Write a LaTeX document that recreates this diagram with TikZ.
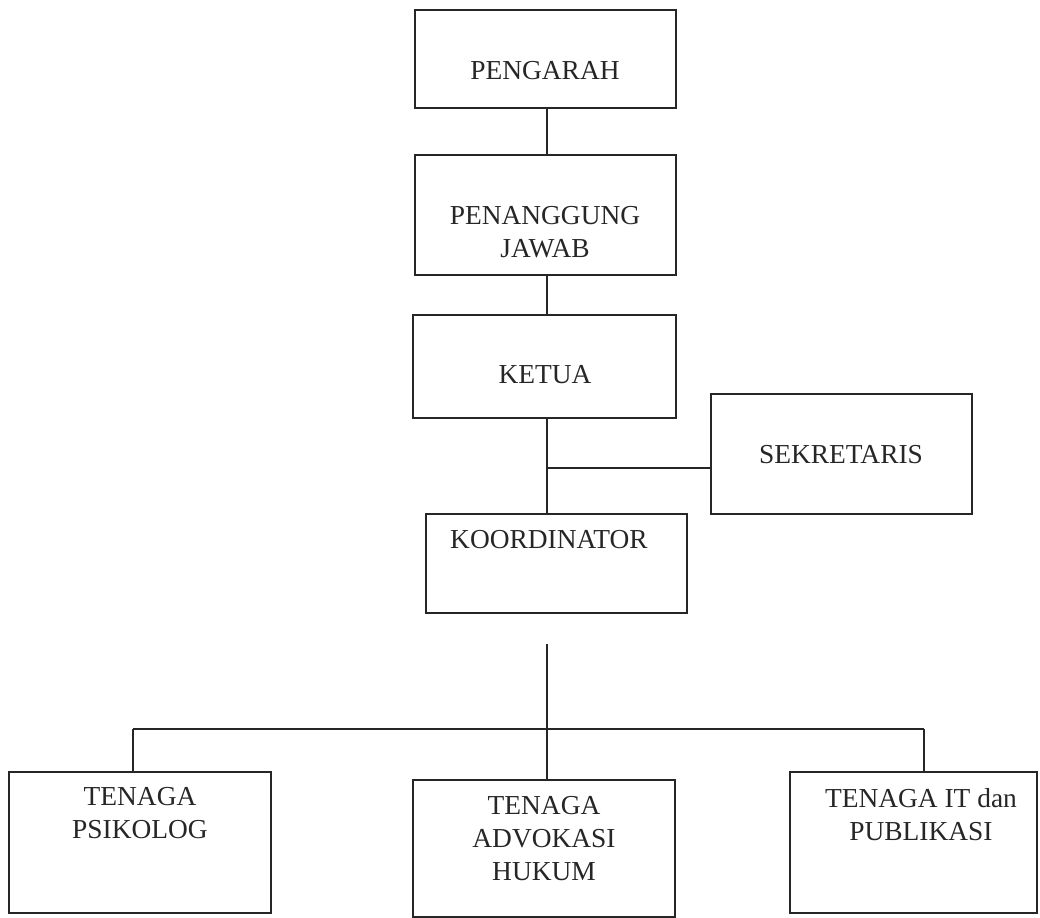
\documentclass[tikz,border=0pt]{standalone}
\usepackage{fontspec}
\setmainfont{Liberation Serif}
\begin{document}
\begin{tikzpicture}[x=0.025cm,y=-0.025cm,
  box/.style={draw=black!85,line width=1.3pt,rectangle,inner sep=0pt},
  lbl/.style={font=\fontsize{19.5}{23.5}\selectfont,align=center,inner sep=0pt,text=black!85},
  conn/.style={draw=black!85,line width=1.2pt}]
\useasboundingbox (0,0) rectangle (1040,918);
% boxes
\node[box,minimum width=6.525cm,minimum height=2.45cm] (peng) at (545.5,59) {};
\node[box,minimum width=6.525cm,minimum height=3.0cm] (pj) at (545.5,215) {};
\node[box,minimum width=6.575cm,minimum height=2.575cm] (ketua) at (544.5,366.5) {};
\node[box,minimum width=6.525cm,minimum height=3.0cm] (sekr) at (841.5,454) {};
\node[box,minimum width=6.525cm,minimum height=2.475cm] (koord) at (556.5,563.5) {};
\node[box,minimum width=6.55cm,minimum height=3.525cm] (psi) at (140,842.5) {};
\node[box,minimum width=6.55cm,minimum height=3.425cm] (adv) at (544,848.5) {};
\node[box,minimum width=6.175cm,minimum height=3.525cm] (it) at (913.5,842.5) {};
% labels
\node[lbl] (peng-t) at (545,71) {PENGARAH};
\node[lbl] (pj-t) at (545,232) {PENANGGUNG\\JAWAB};
\node[lbl] (ketua-t) at (545,375) {KETUA};
\node[lbl] (sekr-t) at (841,455) {SEKRETARIS};
\node[lbl] (koord-t) at (549,540) {KOORDINATOR};
\node[lbl] (psi-t) at (140,813.5) {TENAGA\\PSIKOLOG};
\node[lbl] (adv-t) at (544,838.5) {TENAGA\\ADVOKASI\\HUKUM};
\node[lbl] (it-t) at (921,815) {TENAGA IT dan\\PUBLIKASI};
% connector points
\coordinate (trunk) at (547,0);
\coordinate (j1) at (547,468);
\coordinate (k1) at (547,644);
\coordinate (bl) at (133,729);
\coordinate (br) at (924,729);
% connectors
\draw[conn] (peng.south -| trunk) -- (pj.north -| trunk);
\draw[conn] (pj.south -| trunk) -- (ketua.north -| trunk);
\draw[conn] (ketua.south -| trunk) -- (koord.north -| trunk);
\draw[conn] (j1) -- (j1 -| sekr.west);
\draw[conn] (k1) -- (adv.north -| trunk);
\draw[conn] (bl) -- (br);
\draw[conn] (bl) -- (bl |- psi.north);
\draw[conn] (br) -- (br |- it.north);
\end{tikzpicture}
\end{document}
